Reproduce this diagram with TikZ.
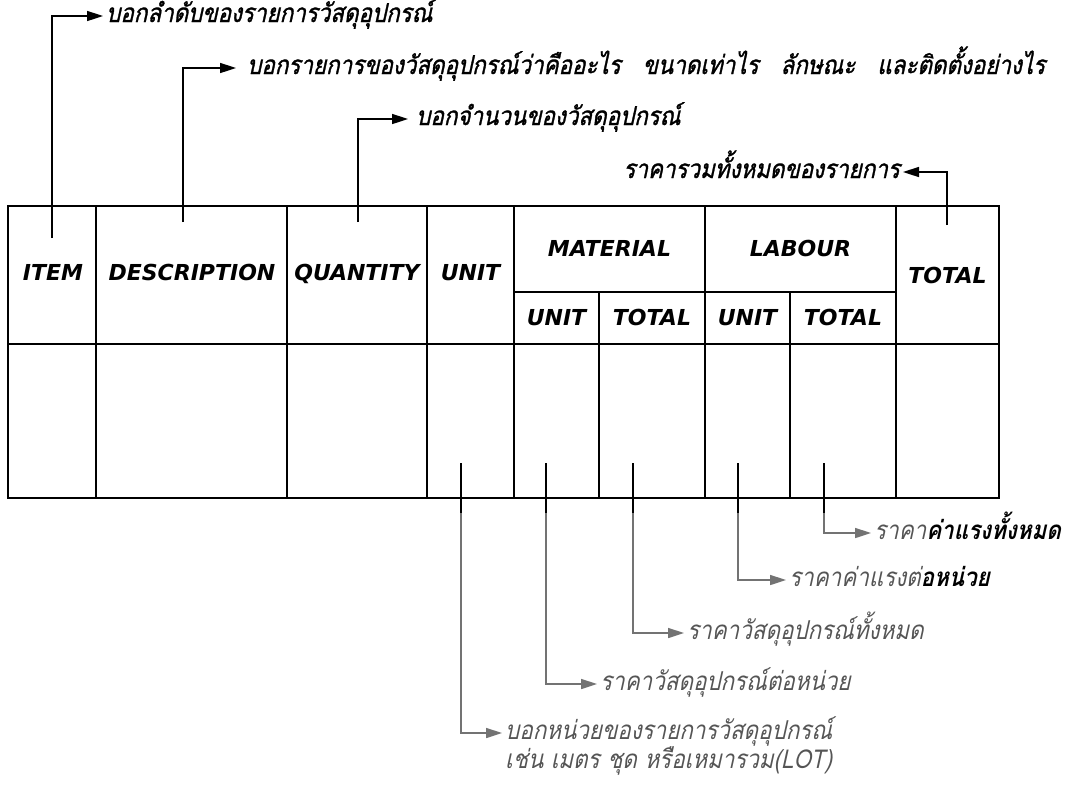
\documentclass[tikz,border=0pt]{standalone}
\usepackage{fontspec}
\usetikzlibrary{arrows.meta}
\newfontfamily\hdrfont{DejaVu Sans}
\newfontfamily\thaifont[Script=Thai,FakeSlant=0.22,FakeStretch=0.86]{Loma}
\newfontfamily\thaitop[Script=Thai,FakeSlant=0.22,FakeStretch=0.86,FakeBold=1.2]{Loma}
\definecolor{lgray}{RGB}{115,115,115}
\definecolor{tgray}{RGB}{85,85,85}
\tikzset{
  tbl/.style={line width=1.8pt,line cap=rect},
  hdr/.style={font=\hdrfont\bfseries\itshape\fontsize{22}{22}\selectfont,anchor=base,inner sep=0pt},
  lab/.style={font=\thaifont\fontsize{26}{26}\selectfont,anchor=west,inner xsep=3pt,inner ysep=0pt,text height=12pt,text depth=0pt},
  labtop/.style={lab,font=\thaitop\fontsize{26}{26}\selectfont},
  conn/.style={line width=1.6pt,-{Triangle[length=16pt,width=10pt]}},
  conng/.style={conn,lgray},
}
\begin{document}
\begin{tikzpicture}[x=1pt,y=-1pt]
\useasboundingbox (0,0) rectangle (1073,785);
% table
\draw[tbl] (8,206) rectangle (999,498);
\draw[tbl] (8,344) -- (999,344);
\draw[tbl] (514,292) -- (896,292);
\foreach \x in {96,287,427,514,705,896} \draw[tbl] (\x,206) -- (\x,498);
\foreach \x in {599,790} \draw[tbl] (\x,292) -- (\x,498);
% headers
\node[hdr] (hItem) at (53,280) {ITEM};
\node[hdr] (hDesc) at (192,280) {DESCRIPTION};
\node[hdr] (hQty) at (357,280) {QUANTITY};
\node[hdr] (hUnit) at (470.5,280) {UNIT};
\node[hdr] (hMat) at (609.5,256) {MATERIAL};
\node[hdr] (hLab) at (800.5,256) {LABOUR};
\node[hdr] (hTot) at (947.5,283) {TOTAL};
\node[hdr] (hMU) at (556.5,325) {UNIT};
\node[hdr] (hMT) at (652,325) {TOTAL};
\node[hdr] (hLU) at (747.5,325) {UNIT};
\node[hdr] (hLT) at (843,325) {TOTAL};
% connector origins
\coordinate (cI) at (52,238);
\coordinate (cD) at (183,222);
\coordinate (cQ) at (358,222);
\coordinate (cT) at (947,225);
\coordinate (cU) at (461,463);
\coordinate (cMU) at (546,463);
\coordinate (cMT) at (633,463);
\coordinate (cLU) at (738,463);
\coordinate (cLT) at (824,463);
% top labels
\node[labtop] (l1) at (103,16) {บอกลำดับของรายการวัสดุอุปกรณ์};
\node[labtop] (l2) at (244,68) {บอกรายการของวัสดุอุปกรณ์ว่าคืออะไร\hspace{22pt}ขนาดเท่าไร\hspace{22pt}ลักษณะ\hspace{22pt}และติดตั้งอย่างไร};
\node[labtop] (l3) at (413,119) {บอกจำนวนของวัสดุอุปกรณ์};
\node[labtop,anchor=east] (l4) at (903,172) {ราคารวมทั้งหมดของรายการ};
\draw[conn] (cI) |- (l1.west);
\draw[conn,shorten >=8pt] (cD) |- (l2.west);
\draw[conn,shorten >=5pt] (cQ) |- (l3.west);
\draw[conn] (cT) |- (l4.east);
% bottom labels
\node[lab,tgray] (lLT) at (871,533) {ราคา{\bfseries\color{black}ค่าแรงทั้งหมด}};
\node[lab,tgray] (lLU) at (786,580) {ราคาค่าแรงต่{\bfseries\color{black}อหน่วย}};
\node[lab,tgray] (lMT) at (684,633) {ราคาวัสดุอุปกรณ์ทั้งหมด};
\node[lab,tgray] (lMU) at (597,684) {ราคาวัสดุอุปกรณ์ต่อหน่วย};
\node[lab,tgray] (lU) at (502,733) {บอกหน่วยของรายการวัสดุอุปกรณ์};
\node[lab,tgray] (lU2) at (502,762) {เช่น เมตร ชุด หรือเหมารวม(LOT)};
\foreach \c/\l in {cLT/lLT,cLU/lLU,cMT/lMT,cMU/lMU,cU/lU}{
  \draw[conng] (\c) |- (\l.west);
  \draw[line width=1.6pt] (\c) -- ++(0,50);
}
\end{tikzpicture}
\end{document}
